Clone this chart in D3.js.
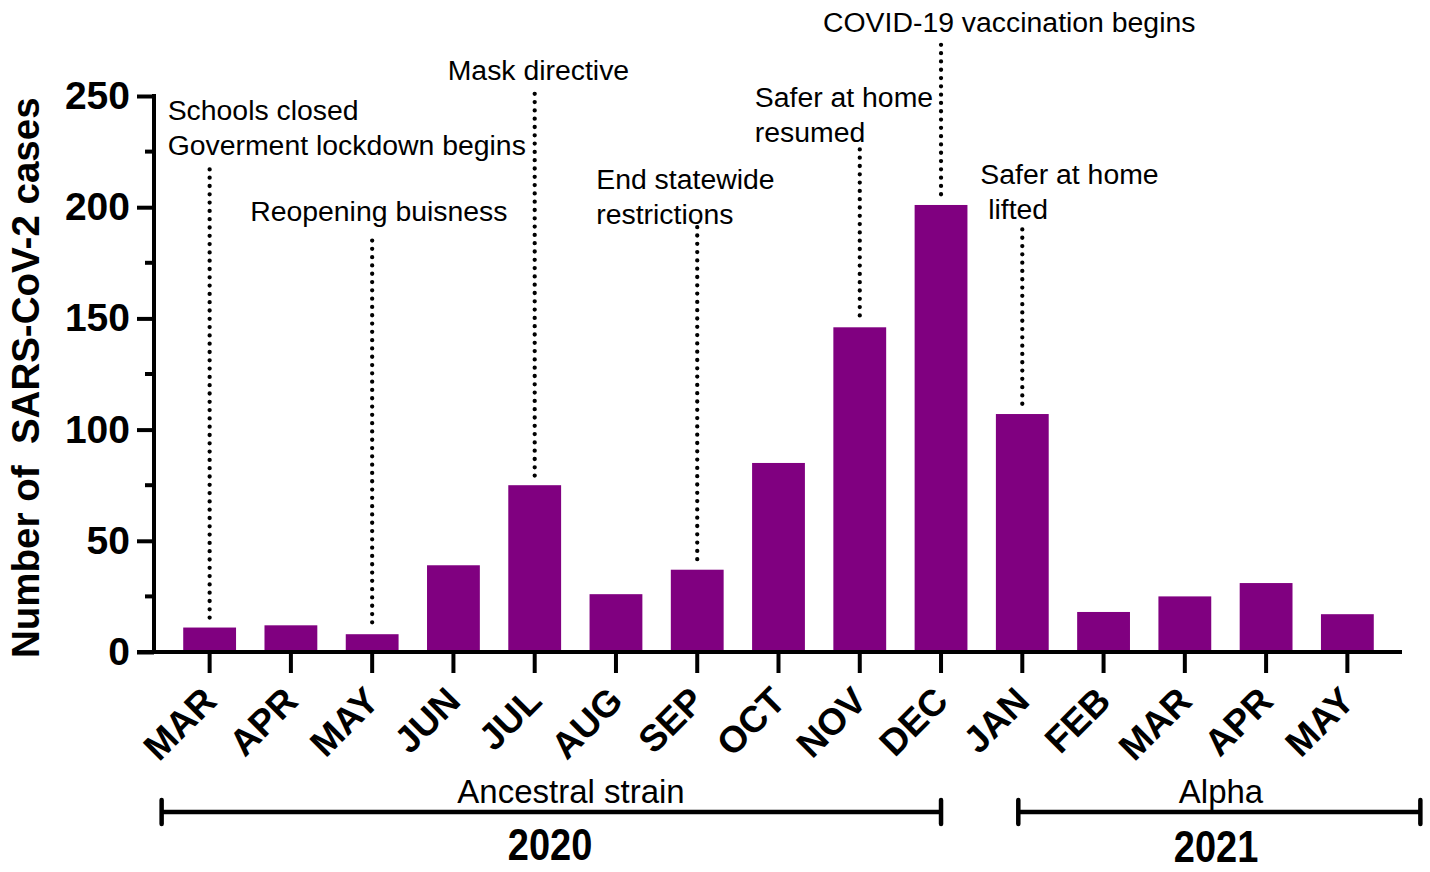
<!DOCTYPE html>
<html>
<head>
<meta charset="utf-8">
<script src="https://cdn.jsdelivr.net/npm/d3@7"></script>
<style>
  body { margin: 0; background: #fff; }
  svg { font-family: "Liberation Sans", Arial, sans-serif; }
  text { white-space: pre; }
</style>
</head>
<body>
<div id="chart"></div>
<script>
// monthly case counts, Mar 2020 - May 2021
const months = ["MAR", "APR", "MAY", "JUN", "JUL", "AUG", "SEP", "OCT", "NOV", "DEC", "JAN", "FEB", "MAR", "APR", "MAY"];
const cases = [11, 12, 8, 39, 75, 26, 37, 85, 146, 201, 107, 18, 25, 31, 17];
const yTicks = [0, 50, 100, 150, 200, 250];
const yMinor = [25, 75, 125, 175, 225];

// events: month index, top of the dotted line (in case units), label lines
const events = [
    { m: 0, top: 217, lines: ["Schools closed", "Goverment lockdown begins"] },
    { m: 2, top: 185, lines: ["Reopening buisness"] },
    { m: 4, top: 251, lines: ["Mask directive"] },
    { m: 6, top: 191, lines: ["End statewide", "restrictions"] },
    { m: 8, top: 226, lines: ["Safer at home", "resumed"] },
    { m: 9, top: 273, lines: ["COVID-19 vaccination begins"] },
    { m: 10, top: 190, lines: ["Safer at home", " lifted"] }
];

const strains = ["Ancestral strain", "Alpha"];
const years = ["2020", "2021"];
const spans = [[0, 9], [10, 14]];

// label placement (pixels): dx from line, first baseline y
const eventLabelPos = [[-42, 120], [-122, 221], [-87, 80], [-101, 189], [-105, 107], [-118, 32], [-42, 184]];

let width = 1430,
    height = 872,
    x0 = 154,       // y axis position
    yTop = 96,
    yBase = 652;

let svg = d3.select("#chart")
    .append("svg")
    .attr("width", width)
    .attr("height", height);

let idx = d3.range(months.length);

let x = d3.scaleBand()
    .domain(idx)
    .range([169, 1388])
    .paddingInner(0.35)
    .paddingOuter(0.175);

let y = d3.scaleLinear()
    .domain([0, 250])
    .range([yBase, yTop]);

let cx = function (i) { return x(i) + x.bandwidth() / 2; };

// bars
svg.append("g")
    .selectAll("rect")
    .data(cases)
    .enter()
    .append("rect")
    .attr("x", function (d, i) { return x(i); })
    .attr("y", function (d) { return y(d); })
    .attr("width", x.bandwidth())
    .attr("height", function (d) { return y(0) - y(d); })
    .style("fill", "#800080");

// y axis
let yAxis = svg.append("g")
    .attr("transform", "translate(" + x0 + ",0)")
    .call(d3.axisLeft(y).tickValues(yTicks).tickSize(17).tickSizeOuter(0).tickPadding(7));

yAxis.select(".domain").attr("stroke-width", 4).attr("d", "M0," + (yBase + 2) + "V" + (yTop - 2));
yAxis.selectAll(".tick line").attr("stroke-width", 4);
yAxis.selectAll(".tick text")
    .style("font-family", "Liberation Sans, Arial, sans-serif")
    .style("font-size", "39px")
    .style("font-weight", "bold")
    .style("fill", "#000");

svg.append("g")
    .selectAll("line")
    .data(yMinor)
    .enter()
    .append("line")
    .attr("x1", x0 - 9)
    .attr("x2", x0)
    .attr("y1", function (d) { return y(d); })
    .attr("y2", function (d) { return y(d); })
    .style("stroke", "#000")
    .style("stroke-width", 4);

// x axis
let xAxis = svg.append("g")
    .attr("transform", "translate(0," + yBase + ")")
    .call(d3.axisBottom(x).tickSize(21).tickFormat(function (i) { return months[i]; }));

xAxis.select(".domain").remove();
xAxis.selectAll(".tick line").attr("stroke-width", 4);
xAxis.selectAll(".tick text")
    .attr("y", 0)
    .attr("dy", 0)
    .attr("transform", "translate(9,51) rotate(-45)")
    .style("text-anchor", "end")
    .style("font-family", "Liberation Sans, Arial, sans-serif")
    .style("font-size", "37px")
    .style("font-weight", "bold")
    .style("fill", "#000");

svg.append("line")
    .attr("x1", x0 - 17)
    .attr("x2", x.range()[1] + 14)
    .attr("y1", yBase)
    .attr("y2", yBase)
    .style("stroke", "#000")
    .style("stroke-width", 4);

// y title
svg.append("text")
    .attr("transform", "translate(39,658) rotate(-90)")
    .text("Number of  SARS-CoV-2 cases")
    .style("font-size", "38.5px")
    .style("font-weight", "bold")
    .style("fill", "#000");

// event markers
let ev = svg.append("g")
    .selectAll("g")
    .data(events)
    .enter()
    .append("g");

ev.append("line")
    .attr("x1", function (d) { return cx(d.m); })
    .attr("x2", function (d) { return cx(d.m); })
    .attr("y1", function (d) { return y(d.top); })
    .attr("y2", function (d) { return y(cases[d.m]) - 8; })
    .style("stroke", "#000")
    .style("stroke-width", 4.3)
    .style("stroke-linecap", "round")
    .style("stroke-dasharray", "0,8.3");

ev.each(function (d, k) {
    let g = d3.select(this);
    d.lines.forEach(function (t, j) {
        g.append("text")
            .attr("x", cx(d.m) + eventLabelPos[k][0])
            .attr("y", eventLabelPos[k][1] + j * 35)
            .text(t)
            .style("font-size", "28.4px")
            .style("fill", "#000");
    });
});

// strain / year brackets
let brackets = [
    { x1: cx(spans[0][0]) - 48, x2: cx(spans[0][1]), lx: 571, yx: 550 },
    { x1: cx(spans[1][0]) - 4, x2: cx(spans[1][1]) + 73, lx: 1221, yx: 1216 }
];

brackets.forEach(function (b, i) {
    let g = svg.append("g");
    g.append("line")
        .attr("x1", b.x1).attr("x2", b.x2)
        .attr("y1", 812).attr("y2", 812)
        .style("stroke", "#000").style("stroke-width", 4.5);
    [b.x1, b.x2].forEach(function (px) {
        g.append("line")
            .attr("x1", px).attr("x2", px)
            .attr("y1", 800).attr("y2", 824)
            .style("stroke", "#000").style("stroke-width", 4.5)
            .style("stroke-linecap", "round");
    });
    g.append("text")
        .attr("x", b.lx).attr("y", 803)
        .text(strains[i])
        .style("text-anchor", "middle")
        .style("font-size", "33px")
        .style("fill", "#000");
    g.append("text")
        .attr("transform", "translate(" + b.yx + "," + (860 + i * 2) + ") scale(1,1.15)")
        .text(years[i])
        .style("text-anchor", "middle")
        .style("font-size", "38px")
        .style("font-weight", "bold")
        .style("fill", "#000");
});
</script>
</body>
</html>
